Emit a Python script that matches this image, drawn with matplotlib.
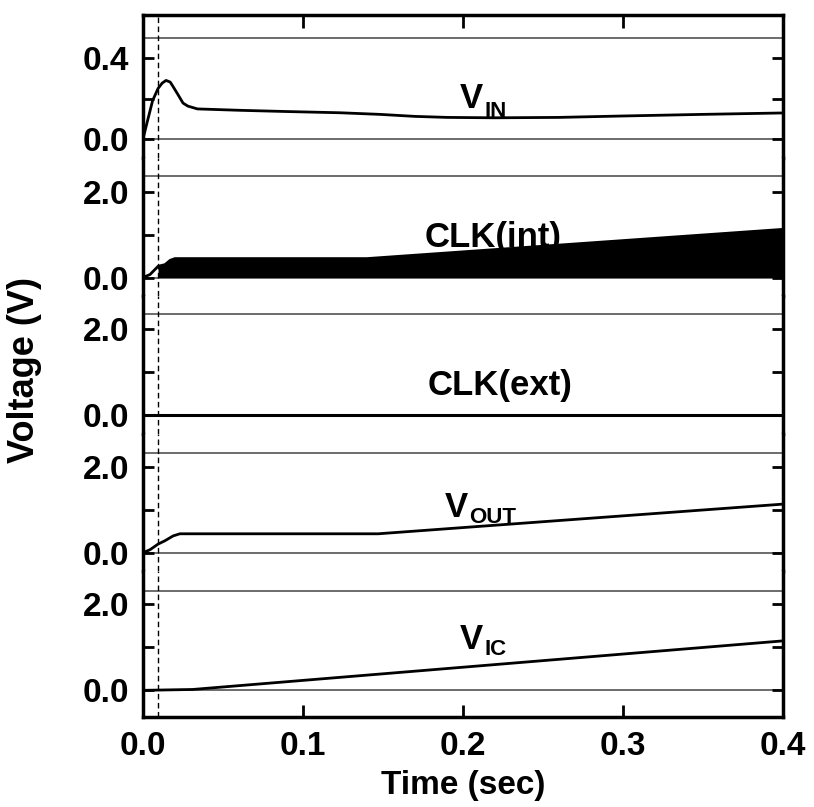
import numpy as np
import matplotlib.pyplot as plt
from matplotlib.transforms import offset_copy

plt.rcParams['font.family'] = ['Liberation Sans', 'DejaVu Sans']
plt.rcParams['font.weight'] = 'bold'

# --- data (time in sec, voltage in V) ---
t_vin = [0.0, 0.0025, 0.006, 0.0094, 0.012, 0.0144, 0.017, 0.019, 0.022, 0.025,
         0.028, 0.034, 0.061, 0.09, 0.123, 0.148, 0.17, 0.19, 0.22, 0.26,
         0.3, 0.35, 0.4]
v_in = [0.0, 0.08, 0.19, 0.25, 0.277, 0.29, 0.282, 0.257, 0.218, 0.178,
        0.163, 0.149, 0.142, 0.136, 0.13, 0.122, 0.112, 0.107, 0.105, 0.107,
        0.114, 0.122, 0.129]

t_clk_int = [0.0, 0.0044, 0.0094, 0.0138, 0.017, 0.02, 0.14, 0.4]
v_clk_int = [0.0, 0.07, 0.26, 0.30, 0.40, 0.44, 0.44, 1.12]

t_clk_ext = [0.0, 0.4]
v_clk_ext = [0.0, 0.0]

t_vout = [0.0, 0.0044, 0.0094, 0.0138, 0.0188, 0.023, 0.147, 0.4]
v_out = [0.0, 0.07, 0.20, 0.28, 0.39, 0.44, 0.44, 1.13]

t_vic = [0.0, 0.031, 0.4]
v_ic = [0.0, 0.02, 1.15]

t_marker = 0.0094

# channel names: (main text, subscript, x, baseline, subscript drop in px)
names = [('V', 'IN', 0.2125, 0.153, 9), ('CLK(int)', None, 0.219, 0.72, 0),
         ('CLK(ext)', None, 0.223, 0.47, 0), ('V', 'OUT', 0.203, 0.83, 6),
         ('V', 'IC', 0.2125, 0.966, 6)]

yticks = [[0.0, 0.2, 0.4], [0, 1, 2], [0, 1, 2], [0, 1, 2], [0, 1, 2]]
yticklabels = [['0.0', '', '0.4'], ['0.0', '', '2.0'], ['0.0', '', '2.0'],
               ['0.0', '', '2.0'], ['0.0', '', '2.0']]
top_lines = [0.5, 2.35, 2.35, 2.32, 2.32]
ylims = [(-0.096, 0.614), (-0.43, 2.77), (-0.43, 2.77), (-0.43, 2.77), (-0.62, 2.77)]

# panel edges in pixels from the top of the figure
W, H = 814, 807
edges = [15, 158.4, 296, 433.6, 571.2, 717]
x0, x1 = 143, 783

fig = plt.figure(figsize=(W / 100, H / 100), dpi=100)
axes = []
for i in range(5):
    top, bot = edges[i], edges[i + 1]
    ax = fig.add_axes([x0 / W, 1 - bot / H, (x1 - x0) / W, (bot - top) / H])
    axes.append(ax)

series = [(t_vin, v_in), (t_clk_int, v_clk_int), (t_clk_ext, v_clk_ext),
          (t_vout, v_out), (t_vic, v_ic)]

for i, ax in enumerate(axes):
    ax.set_xlim(0, 0.4)
    ax.set_ylim(*ylims[i])
    ax.axhline(top_lines[i], color='#444444', lw=1.1, zorder=1)
    if i != 2:
        ax.axhline(0, color='#444444', lw=1.1, zorder=1)

    t, v = series[i]
    ax.plot(t, v, color='black', lw=2 if i != 2 else 2.2, zorder=3)
    if i == 1:
        ta = np.array(t)
        ax.fill_between(ta, 0, v, where=ta >= t_marker, color='black', lw=0, zorder=3)

    ax.axvline(t_marker, color='black', lw=1, ls=(0, (4, 2.5)), zorder=2)

    main, sub, tx, ty, drop = names[i]
    if sub is None:
        ax.text(tx, ty, main, ha='center', va='baseline', fontsize=25,
                fontweight='bold', zorder=4)
    else:
        ax.text(tx, ty, main, ha='right', va='baseline', fontsize=25,
                fontweight='bold', zorder=4)
        tr = offset_copy(ax.transData, fig=fig, x=1, y=-drop, units='dots')
        ax.text(tx, ty, sub, transform=tr, ha='left', va='baseline', fontsize=16,
                fontweight='bold', zorder=4)

    ax.set_yticks(yticks[i])
    ax.set_yticklabels(yticklabels[i])
    ax.tick_params(axis='y', direction='in', length=8, width=2, left=True, right=True,
                   labelsize=24, pad=10)
    ax.set_xticks([0, 0.1, 0.2, 0.3, 0.4])
    ax.tick_params(axis='x', direction='in', length=9, width=2, top=(i == 0),
                   bottom=(i == 4), labelbottom=(i == 4), labelsize=24, pad=10)
    for s in ax.spines.values():
        s.set_linewidth(2.5)
    if i != 0:
        ax.spines['top'].set_visible(False)
    if i != 4:
        ax.spines['bottom'].set_visible(False)

axes[4].set_xticklabels(['0.0', '0.1', '0.2', '0.3', '0.4'])
axes[4].set_xlabel('Time (sec)', fontsize=24, fontweight='bold', labelpad=6)
fig.text(25 / W, 1 - 370 / H, 'Voltage (V)', rotation=90, ha='center', va='center',
         fontsize=26, fontweight='bold')

fig.savefig('out.png', dpi=100)
